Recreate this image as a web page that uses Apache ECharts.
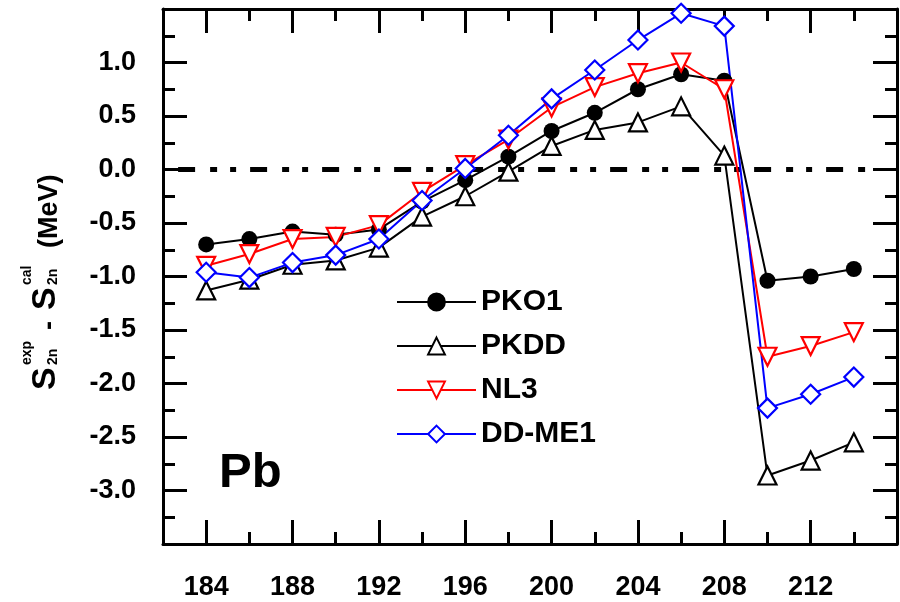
<!DOCTYPE html>
<html>
<head>
<meta charset="utf-8">
<script src="https://cdn.jsdelivr.net/npm/echarts@6/dist/echarts.min.js"></script>
<style>
html, body { margin: 0; padding: 0; background: #fff; }
#chart { width: 900px; height: 602px; }
</style>
</head>
<body>
<div id="chart"></div>
<script>
const FONT = '"Liberation Sans", Arial, Helvetica, sans-serif'

// neutron number N
const neutronNumbers = [184, 186, 188, 190, 192, 194, 196, 198, 200, 202, 204, 206, 208, 210, 212, 214]
// S2n(exp) - S2n(cal), MeV
const pko1 = [-0.70, -0.65, -0.58, -0.61, -0.56, -0.30, -0.10, 0.12, 0.36, 0.53, 0.75, 0.89, 0.83, -1.04, -1.00, -0.93]
const pkdd = [-1.13, -1.03, -0.89, -0.85, -0.73, -0.44, -0.25, -0.02, 0.22, 0.37, 0.44, 0.59, 0.13, -2.86, -2.72, -2.55]
const nl3 = [-0.90, -0.79, -0.65, -0.63, -0.52, -0.21, 0.04, 0.28, 0.58, 0.77, 0.90, 1.00, 0.75, -1.75, -1.65, -1.52]
const ddme1 = [-0.96, -1.01, -0.87, -0.80, -0.65, -0.29, 0.01, 0.32, 0.66, 0.93, 1.21, 1.46, 1.34, -2.23, -2.10, -1.94]

const xMajorTicks = [184, 188, 192, 196, 200, 204, 208, 212]
const xMinorTicks = [186, 190, 194, 198, 202, 206, 210, 214]
const yMajorTicks = [1.0, 0.5, 0.0, -0.5, -1.0, -1.5, -2.0, -2.5, -3.0]
const yMinorTicks = [1.25, 0.75, 0.25, -0.25, -0.75, -1.25, -1.75, -2.25, -2.75, -3.25]
const zeroLine = [[182.7, 0], [214.8, 0]]

const pairs = ys => neutronNumbers.map((n, i) => [n, ys[i]])

function xAxisOf(position, ticks, len, withLine, withLabels) {
  return {
    type: 'value', min: 182, max: 216, position,
    axisLine: { show: withLine, onZero: false, lineStyle: { color: '#000', width: 3 } },
    axisTick: { show: true, inside: true, length: len, customValues: ticks, lineStyle: { color: '#000', width: 3 } },
    axisLabel: withLabels ? {
      customValues: ticks, margin: 30, color: '#000',
      fontSize: 27, fontWeight: 'bold', fontFamily: FONT,
    } : { show: false },
    splitLine: { show: false },
  }
}

function yAxisOf(position, ticks, len, withLine, withLabels) {
  return {
    type: 'value', min: -3.5, max: 1.5, position,
    axisLine: { show: withLine, onZero: false, lineStyle: { color: '#000', width: 3 } },
    axisTick: { show: true, inside: true, length: len, customValues: ticks, lineStyle: { color: '#000', width: 3 } },
    axisLabel: withLabels ? {
      customValues: ticks, margin: 27, color: '#000',
      fontSize: 27, fontWeight: 'bold', fontFamily: FONT,
      formatter: v => v.toFixed(1),
    } : { show: false },
    splitLine: { show: false },
  }
}

// invisible left axis that only carries one line of the rotated title
function titleAxis(name, gap, rich) {
  return {
    type: 'value', min: -3.5, max: 1.5, position: 'left',
    axisLine: { show: false, onZero: false }, axisTick: { show: false },
    axisLabel: { show: false }, splitLine: { show: false },
    name, nameLocation: 'middle', nameRotate: 90, nameGap: gap,
    nameTextStyle: { color: '#000', rich },
  }
}

const tok = (size, width) => ({ fontSize: size, fontWeight: 'bold', fontFamily: FONT, color: '#000', width, verticalAlign: 'bottom' })

function dataSeries(name, ys, symbol, size, color, filled, rotate) {
  return {
    name, type: 'line', data: pairs(ys),
    symbol, symbolSize: size, symbolRotate: rotate || 0,
    z: 3,
    lineStyle: { color, width: 2 },
    itemStyle: filled
      ? { color, borderColor: color, borderWidth: 0 }
      : { color: '#fff', borderColor: color, borderWidth: 2.2 },
    emphasis: { disabled: true },
  }
}

const chart = echarts.init(document.getElementById('chart'))
chart.setOption({
  animation: false,
  backgroundColor: '#fff',
  grid: { left: 163, right: 3, top: 9, bottom: 58 },
  xAxis: [
    xAxisOf('bottom', xMajorTicks, 24, true, true),
    xAxisOf('bottom', xMinorTicks, 12, false, false),
    xAxisOf('top', xMajorTicks, 24, true, false),
    xAxisOf('top', xMinorTicks, 12, false, false),
  ],
  yAxis: [
    yAxisOf('left', yMajorTicks, 24, true, true),
    yAxisOf('left', yMinorTicks, 12, false, false),
    yAxisOf('right', yMajorTicks, 24, true, false),
    yAxisOf('right', yMinorTicks, 12, false, false),
    titleAxis('{s|S}{a| }{d|-}{b| }{s|S}{c| }{m|(MeV)}{e| }', 100, {
      s: tok(34, 22.7), d: tok(27, 9), m: tok(27, 73.5),
      a: tok(27, 37.3), b: tok(27, 11), c: tok(27, 39.3), e: tok(27, 11.5),
    }),
    titleAxis('{a| }{t|exp}{b| }{u|cal}{e| }', 129, {
      t: tok(14, 24.1), u: tok(14, 19.5),
      a: tok(14, 25), b: tok(14, 55.9), e: tok(14, 102.5),
    }),
    titleAxis('{a| }{t|2n}{b| }{t|2n}{e| }', 103, {
      t: tok(14, 16.3),
      a: tok(14, 25), b: tok(14, 63.7), e: tok(14, 105.7),
    }),
  ],
  legend: {
    data: ['PKO1', 'PKDD', 'NL3', 'DD-ME1'],
    orient: 'vertical', left: 391, top: 282,
    itemWidth: 79, itemHeight: 21, itemGap: 14,
    itemStyle: { borderWidth: 2 },
    textStyle: { fontSize: 30, fontWeight: 'bold', fontFamily: FONT, color: '#000' },
    selectedMode: false,
  },
  graphic: [
    {
      type: 'text', x: 219, y: 473, silent: true,
      style: { text: 'Pb', font: 'bold 49px ' + FONT, fill: '#000', verticalAlign: 'middle' },
    },
  ],
  series: [
    {
      name: 'zero', type: 'line', data: zeroLine, symbol: 'none', silent: true, z: 1,
      lineStyle: { color: '#000', width: 5, type: [17, 15, 7, 13, 6, 14], cap: 'butt' },
    },
    dataSeries('PKO1', pko1, 'circle', 16, '#000', true),
    dataSeries('PKDD', pkdd, 'triangle', 18, '#000', false),
    dataSeries('NL3', nl3, 'triangle', 18, '#ff0000', false, 180),
    dataSeries('DD-ME1', ddme1, 'diamond', 19, '#0000ff', false),
  ],
})
</script>
</body>
</html>
